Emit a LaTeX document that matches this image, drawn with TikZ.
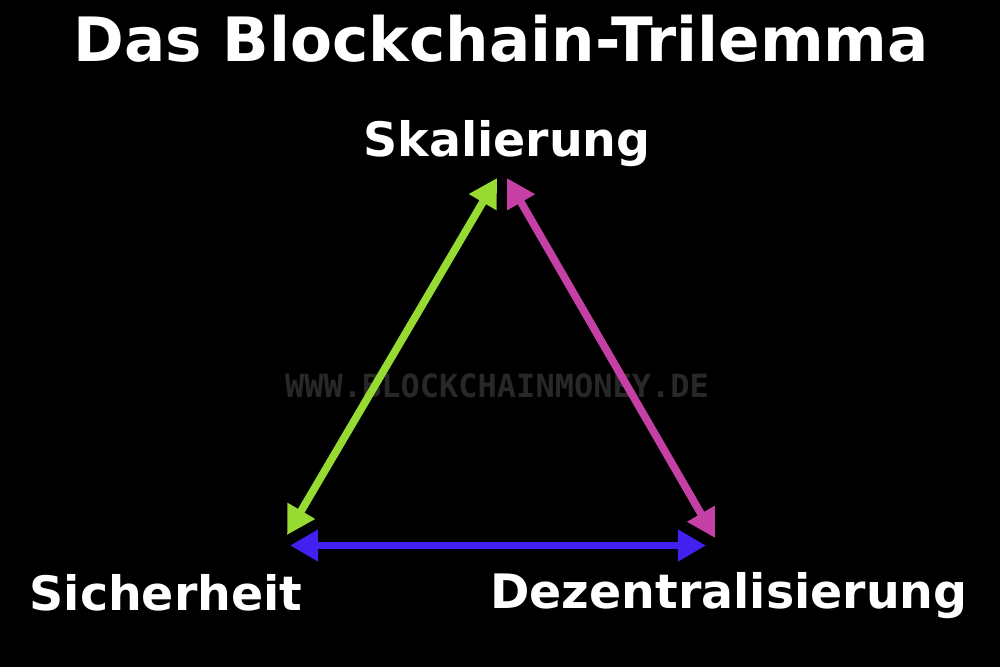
\documentclass[tikz,border=0pt]{standalone}
\usepackage{fontspec}
\setmainfont{DejaVu Sans}
\setmonofont{DejaVu Sans Mono}
\usetikzlibrary{arrows.meta}
\definecolor{trigreen}{RGB}{150,218,50}
\definecolor{trimagenta}{RGB}{196,64,164}
\definecolor{triblue}{RGB}{66,32,240}
\definecolor{markgray}{RGB}{40,40,40}
\tikzset{
    corner/.style={text=white, font=\fontsize{13.5}{16}\selectfont\bfseries, anchor=base},
    side/.style={line width=2.2pt, {Triangle[length=8pt,width=8.6pt]}-{Triangle[length=8pt,width=8.6pt]}}
}
\begin{document}
\begin{tikzpicture}
    \fill[black] (0,0) rectangle (10,6.67);
    \useasboundingbox (0,0) rectangle (10,6.67);
    \node(title) at (5.01,6.05) [anchor=base, text=white, font=\fontsize{17.4}{20}\selectfont\bfseries] {Das Blockchain-Trilemma};
    \node(mark)  at (4.97,2.81) [text=markgray, font=\fontsize{9.1}{11}\selectfont\ttfamily\bfseries] {WWW.BLOCKCHAINMONEY.DE};
    \node(s) at (5.07,5.10) [corner] {Skalierung};
    \node(l) at (1.66,0.57) [corner] {Sicherheit};
    \node(r) at (7.29,0.59) [corner] {Dezentralisierung};
    \coordinate(sl) at (4.97,4.89);
    \coordinate(sr) at (5.07,4.89);
    \coordinate(ls) at (2.87,1.32);
    \coordinate(lr) at (2.90,1.215);
    \coordinate(rs) at (7.15,1.29);
    \coordinate(rl) at (7.06,1.215);
    \draw[side, trigreen]   (sl) -- (ls);
    \draw[side, trimagenta] (sr) -- (rs);
    \draw[side, triblue]    (lr) -- (rl);
\end{tikzpicture}
\end{document}
